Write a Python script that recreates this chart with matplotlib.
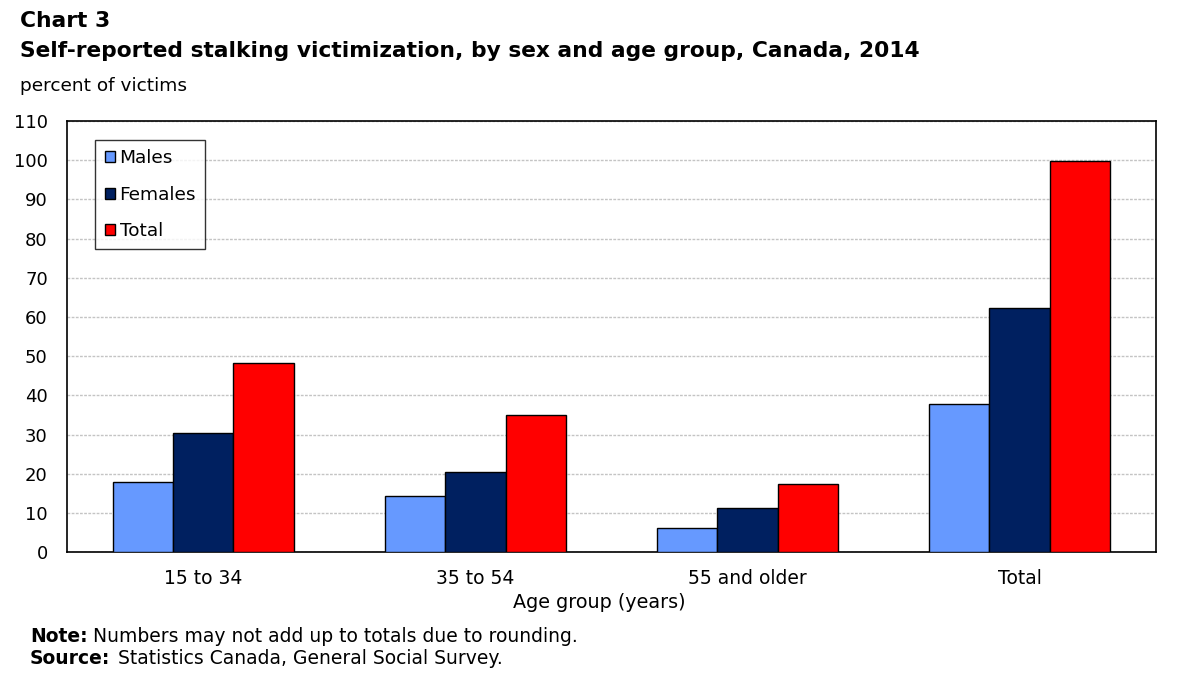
import numpy as np
import matplotlib.pyplot as plt

groups = ['15 to 34', '35 to 54', '55 and older', 'Total']
males = [17.8, 14.3, 6.2, 37.9]
females = [30.5, 20.5, 11.3, 62.3]
total = [48.3, 34.9, 17.4, 99.8]
yticks = list(range(0, 111, 10))

plt.rcParams['font.family'] = ['DejaVu Sans']

fig = plt.figure(figsize=(12, 6.8), dpi=100)
ax = fig.add_axes([0.056, 0.188, 0.907, 0.634])

x = np.arange(len(groups))
w = 0.222
ax.bar(x - w, males, w, color='#6699FF', edgecolor='black', linewidth=1, label='Males', zorder=3)
ax.bar(x, females, w, color='#002060', edgecolor='black', linewidth=1, label='Females', zorder=3)
ax.bar(x + w, total, w, color='#FF0000', edgecolor='black', linewidth=1, label='Total', zorder=3)

ax.set_xlim(-0.5, len(groups) - 0.5)
ax.set_ylim(0, 110)
ax.set_yticks(yticks)
ax.set_xticks(x)
ax.set_xticklabels(groups, fontsize=13.5)
ax.tick_params(axis='y', labelsize=13, length=0, pad=14)
ax.tick_params(axis='x', length=0, pad=12)
ax.yaxis.grid(True, color='#c4c4c4', linestyle=(0, (2, 1)), linewidth=1)
ax.set_axisbelow(True)
for s in ax.spines.values():
    s.set_linewidth(1.2)
ax.set_xlabel('Age group (years)', fontsize=13.8, labelpad=5)
ax.xaxis.set_label_coords(0.489, -0.095)

leg = ax.legend(loc='upper left', bbox_to_anchor=(0.026, 0.956), fontsize=13.3,
                frameon=True, fancybox=False, edgecolor='black', handlelength=0.55,
                handleheight=0.55, handletextpad=0.25, labelspacing=1.0, borderpad=0.5,
                borderaxespad=0)
leg.get_frame().set_linewidth(1)

fig.text(0.017, 0.969, 'Chart 3', fontsize=15.7, fontweight='bold', va='center')
fig.text(0.017, 0.925, 'Self-reported stalking victimization, by sex and age group, Canada, 2014',
         fontsize=15.7, fontweight='bold', va='center')
fig.text(0.017, 0.874, 'percent of victims', fontsize=13.3, va='center')
fig.text(30 / 1200, 1 - 637 / 680, 'Note:', fontsize=13.5, fontweight='bold', va='center')
fig.text(93 / 1200, 1 - 637 / 680, 'Numbers may not add up to totals due to rounding.', fontsize=13.5, va='center')
fig.text(30 / 1200, 1 - 658 / 680, 'Source:', fontsize=13.5, fontweight='bold', va='center')
fig.text(118 / 1200, 1 - 658 / 680, 'Statistics Canada, General Social Survey.', fontsize=13.5, va='center')

fig.savefig('out.png', dpi=100)
